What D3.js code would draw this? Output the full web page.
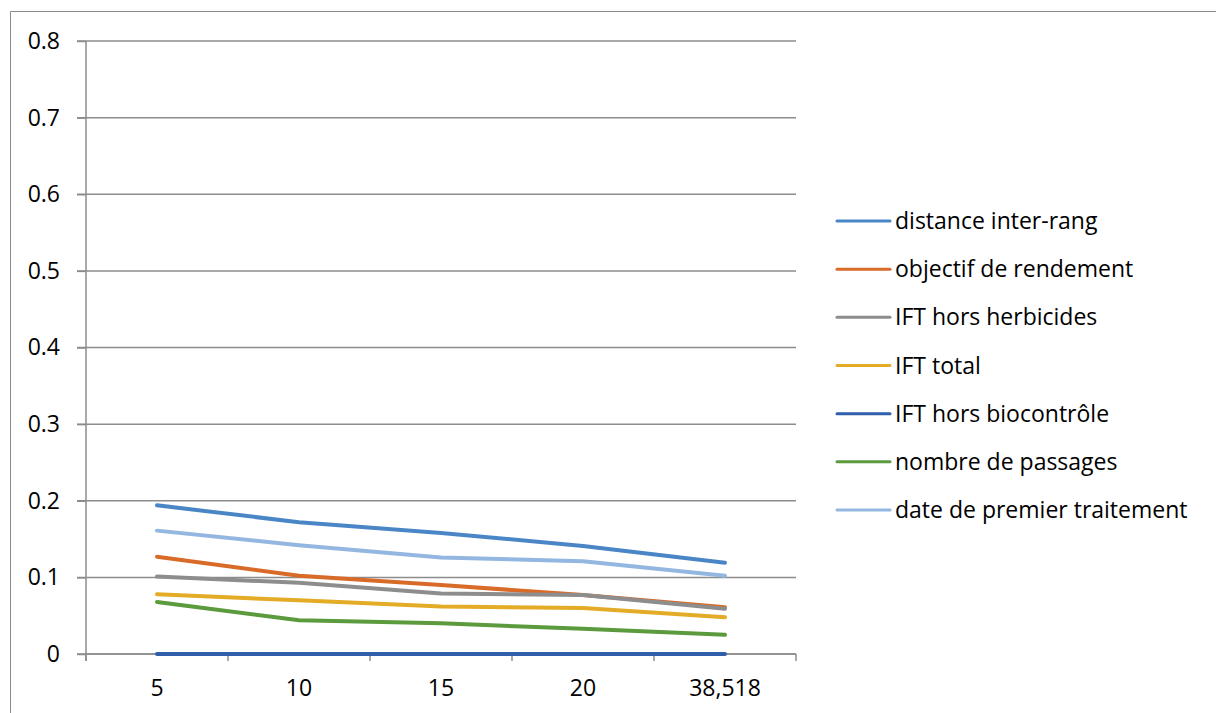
<!DOCTYPE html>
<html>
<head>
<meta charset="utf-8">
<script src="https://cdn.jsdelivr.net/npm/d3@7"></script>
<style>
  html, body { margin: 0; padding: 0; background: #fff; }
  svg { display: block; }
  text { font-family: "Open Sans", "Noto Sans", sans-serif; fill: #000; }
</style>
</head>
<body>
<svg id="chart" width="1216" height="713"></svg>
<script>
const categories = ["5", "10", "15", "20", "38,518"];
const seriesNames = [
  "distance inter-rang",
  "objectif de rendement",
  "IFT hors herbicides",
  "IFT total",
  "IFT hors biocontrôle",
  "nombre de passages",
  "date de premier traitement"
];
const distanceInterRang = [0.194, 0.172, 0.158, 0.141, 0.119];
const objectifRendement = [0.127, 0.102, 0.090, 0.077, 0.061];
const iftHorsHerbicides = [0.101, 0.093, 0.079, 0.077, 0.059];
const iftTotal = [0.078, 0.070, 0.062, 0.060, 0.048];
const iftHorsBiocontrole = [0, 0, 0, 0, 0];
const nombrePassages = [0.068, 0.044, 0.040, 0.033, 0.025];
const datePremierTraitement = [0.161, 0.142, 0.126, 0.121, 0.102];
const yTicks = [0, 0.1, 0.2, 0.3, 0.4, 0.5, 0.6, 0.7, 0.8];
const colors = ["#4a86c6", "#d96b29", "#8d8d8d", "#e3ab26", "#2f5faa", "#5b9a3d", "#93b7e0"];

const seriesValues = [distanceInterRang, objectifRendement, iftHorsHerbicides, iftTotal,
  iftHorsBiocontrole, nombrePassages, datePremierTraitement];
const series = seriesNames.map((name, i) => ({ name, values: seriesValues[i], color: colors[i] }));

const svg = d3.select("#chart");
const gridColor = "#8c8c8c";
const fontSize = 23;

// outer chart border (top and left visible)
svg.append("path").attr("d", "M10.5,713 L10.5,11.5 L1216,11.5")
  .attr("fill", "none").attr("stroke", "#8a8a8a").attr("stroke-width", 1);

const plotLeft = 86, plotRight = 796, plotTop = 41, plotBottom = 654;
const x = d3.scaleBand().domain(categories).range([plotLeft, plotRight]).padding(0);
const y = d3.scaleLinear().domain([0, 0.8]).range([plotBottom, plotTop]);

// gridlines
svg.append("g").selectAll("line").data(yTicks).join("line")
  .attr("x1", plotLeft - 9).attr("x2", plotRight)
  .attr("y1", d => y(d)).attr("y2", d => y(d))
  .attr("stroke", gridColor).attr("stroke-width", 1.5);

// y axis
const yAxis = svg.append("g").attr("transform", `translate(${plotLeft},0)`)
  .call(d3.axisLeft(y).tickValues(yTicks).tickSize(9).tickPadding(17)
    .tickFormat(d => d === 0 ? "0" : d.toFixed(1)));
yAxis.select(".domain").remove();
yAxis.selectAll(".tick line").attr("stroke", gridColor).attr("stroke-width", 1.5);
yAxis.selectAll("text").attr("font-size", fontSize).attr("font-family", "Open Sans").attr("fill", "#000");
svg.append("line").attr("x1", plotLeft).attr("x2", plotLeft).attr("y1", plotTop).attr("y2", plotBottom + 7)
  .attr("stroke", gridColor).attr("stroke-width", 1.5);

// x axis
const xAxis = svg.append("g").attr("transform", `translate(0,${plotBottom})`)
  .call(d3.axisBottom(x).tickSize(0).tickPadding(26));
xAxis.select(".domain").remove();
xAxis.selectAll("text").attr("font-size", fontSize).attr("font-family", "Open Sans").attr("fill", "#000");
const bounds = categories.map(c => x(c)).concat([x(categories[categories.length - 1]) + x.bandwidth()]);
svg.append("g").selectAll("line").data(bounds).join("line")
  .attr("x1", d => d).attr("x2", d => d).attr("y1", plotBottom).attr("y2", plotBottom + 7)
  .attr("stroke", gridColor).attr("stroke-width", 1.5);
svg.append("line").attr("x1", plotLeft).attr("x2", plotRight).attr("y1", plotBottom).attr("y2", plotBottom)
  .attr("stroke", gridColor).attr("stroke-width", 1.5);

// lines
const line = d3.line()
  .x((d, i) => x(categories[i]) + x.bandwidth() / 2)
  .y(d => y(d));
svg.append("g").selectAll("path").data(series).join("path")
  .attr("d", d => line(d.values))
  .attr("fill", "none").attr("stroke", d => d.color)
  .attr("stroke-width", 4).attr("stroke-linejoin", "round").attr("stroke-linecap", "round");

// legend
const legendY = d3.scalePoint().domain(seriesNames).range([221, 510]);
const lg = svg.append("g").selectAll("g").data(series).join("g")
  .attr("transform", d => `translate(0,${legendY(d.name)})`);
lg.append("line").attr("x1", 837).attr("x2", 890).attr("y1", 0).attr("y2", 0)
  .attr("stroke", d => d.color).attr("stroke-width", 3).attr("stroke-linecap", "round");
lg.append("text").attr("x", 895).attr("y", 0).attr("dy", "0.35em")
  .attr("font-size", fontSize).text(d => d.name);
</script>
</body>
</html>
